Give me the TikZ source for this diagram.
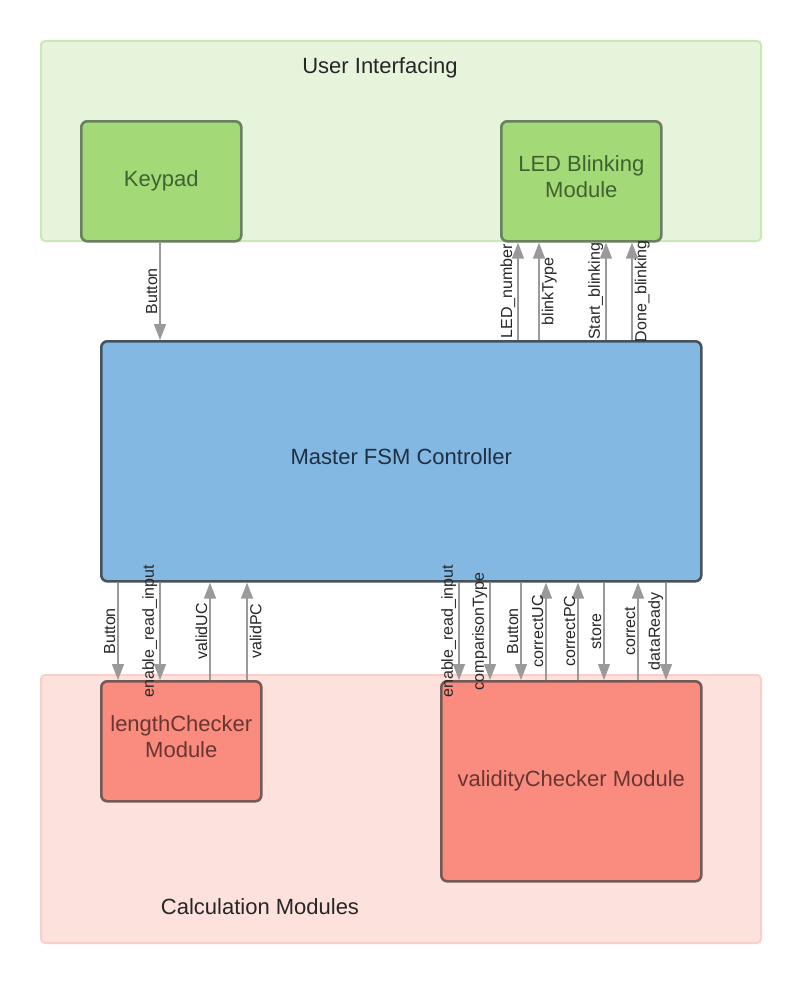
\documentclass[tikz,border=0pt]{standalone}
\usepackage{fontspec}
\setmainfont{Liberation Sans}
\usepackage{tikz}
\usetikzlibrary{arrows.meta,positioning}

\definecolor{uiback}{HTML}{E6F4DC}
\definecolor{uiedge}{HTML}{C9E8B5}
\definecolor{greenbox}{HTML}{A3D977}
\definecolor{greenedge}{HTML}{6B7F62}
\definecolor{greentext}{HTML}{3E6330}
\definecolor{fsmfill}{HTML}{83B8E2}
\definecolor{fsmedge}{HTML}{46525E}
\definecolor{fsmtext}{HTML}{1F3042}
\definecolor{calcback}{HTML}{FDE1DC}
\definecolor{calcedge}{HTML}{F9D0C9}
\definecolor{redbox}{HTML}{F98C7E}
\definecolor{rededge}{HTML}{735A57}
\definecolor{redtext}{HTML}{6A3530}
\definecolor{wire}{HTML}{9A9A9A}

\newcommand{\bigtxt}{\fontsize{22}{26}\selectfont}
\newcommand{\sigtxt}{\fontsize{16}{18}\selectfont}

\tikzset{
  region/.style={draw, line width=2pt, rounded corners=4pt, anchor=north west, inner sep=0pt},
  module/.style={draw, line width=2.6pt, rounded corners=6pt, anchor=north west,
    align=center, inner sep=0pt, font=\bigtxt},
  sig/.style={wire, line width=1.4pt, -{Triangle[width=12pt,length=16pt]}},
  siglab/.style={rotate=90, text=black!85, font=\sigtxt, inner sep=2pt},
}

\begin{document}
\begin{tikzpicture}[x=1pt,y=-1pt]
  \useasboundingbox (0,0) rectangle (800,982);

  % the two background areas
  \node[region, draw=uiedge, fill=uiback, minimum width=720pt, minimum height=200pt]
    (ui) at (40,40) {};
  \node[font=\bigtxt, text=black!85] (uititle) at (380,68) {User Interfacing};
  \node[region, draw=calcedge, fill=calcback, minimum width=720pt, minimum height=268pt]
    (calc) at (40,674) {};
  \node[font=\bigtxt, text=black!85] (calctitle) at (260,907) {Calculation Modules};

  % modules
  \node[module, draw=greenedge, fill=greenbox, text=greentext,
    minimum width=160pt, minimum height=120pt] (keypad) at (80,120) {Keypad};
  \node[module, draw=greenedge, fill=greenbox, text=greentext,
    minimum width=160pt, minimum height=120pt] (led) at (500,120) {LED Blinking\\Module\\[-16pt]\mbox{}};
  \node[module, draw=fsmedge, fill=fsmfill, text=fsmtext,
    minimum width=600pt, minimum height=240pt] (fsm) at (100,340) {Master FSM Controller\\[-16pt]\mbox{}};
  \node[module, draw=rededge, fill=redbox, text=redtext,
    minimum width=160pt, minimum height=120pt] (lc) at (100,680) {lengthChecker\\Module\\[-16pt]\mbox{}};
  \node[module, draw=rededge, fill=redbox, text=redtext,
    minimum width=260pt, minimum height=200pt] (vc) at (440,680) {validityChecker Module};

  % keypad -> fsm
  \coordinate (k) at ([xshift=80pt]keypad.south west);
  \draw[sig] (k) -- (k |- fsm.north) node[siglab, midway, anchor=south] {Button};

  % fsm <-> led module (offset from fsm west, label side, arrow)
  \foreach \dx/\lab/\side in {418/LED\_number/south, 439/blinkType/north,
                               506/Start\_blinking/south, 532/Done\_blinking/north} {
    \coordinate (p) at ([xshift=\dx pt]fsm.north west);
    \draw[sig] (p) -- (p |- led.south) node[siglab, midway, anchor=\side] {\lab};
  }

  % fsm -> lengthChecker (down)
  \foreach \dx/\lab/\side in {18/Button/south, 60/enable\_read\_input/south} {
    \coordinate (p) at ([xshift=\dx pt]fsm.south west);
    \draw[sig] (p) -- (p |- lc.north) node[siglab, midway, anchor=\side] {\lab};
  }
  % lengthChecker -> fsm (up)
  \foreach \dx/\lab/\side in {110/validUC/south, 147/validPC/north} {
    \coordinate (p) at ([xshift=\dx pt]fsm.south west);
    \draw[sig] (p |- lc.north) -- (p) node[siglab, midway, anchor=\side] {\lab};
  }

  % fsm -> validityChecker (down)
  \foreach \dx/\lab/\side in {359/enable\_read\_input/south, 390/comparisonType/south,
                               421/Button/south, 504/store/south, 566/dataReady/south} {
    \coordinate (p) at ([xshift=\dx pt]fsm.south west);
    \draw[sig] (p) -- (p |- vc.north) node[siglab, midway, anchor=\side] {\lab};
  }
  % validityChecker -> fsm (up)
  \foreach \dx/\lab/\side in {446/correctUC/south, 478/correctPC/south, 538/correct/south} {
    \coordinate (p) at ([xshift=\dx pt]fsm.south west);
    \draw[sig] (p |- vc.north) -- (p) node[siglab, midway, anchor=\side] {\lab};
  }
\end{tikzpicture}
\end{document}
